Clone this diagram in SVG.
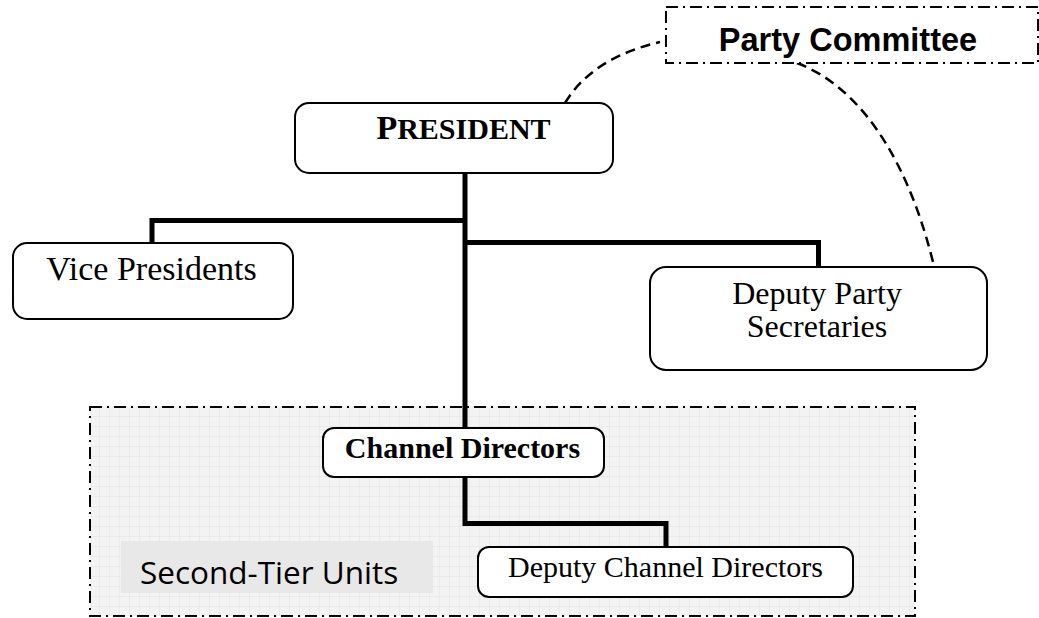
<svg xmlns="http://www.w3.org/2000/svg" width="1039" height="618" viewBox="0 0 1039 618">
  <defs>
    <pattern id="grid" width="10" height="10" patternUnits="userSpaceOnUse" x="90" y="407">
      <rect width="10" height="10" fill="#f3f3f3"/>
      <path d="M10,0 V10 M0,10 H10" fill="none" stroke="#e4e4e4" stroke-width="1"/>
    </pattern>
  </defs>
  <style>
    .node { fill: #ffffff; stroke: #000000; stroke-width: 2; }
    .conn { fill: none; stroke: #000000; stroke-width: 5; stroke-linejoin: miter; }
    .dashc { fill: none; stroke: #000000; stroke-width: 2.5; stroke-dasharray: 10 6; }
    .dashdot { stroke: #000000; stroke-width: 2; stroke-dasharray: 12 5 2 5; }
    .serif { font-family: "Liberation Serif", "Times New Roman", serif; fill: #000000; }
    .sans { font-family: "Liberation Sans", Arial, sans-serif; fill: #000000; }
  </style>

  <g id="second-tier-region">
    <rect x="90" y="407" width="825" height="209" fill="url(#grid)" class="dashdot"/>
    <rect x="121" y="541" width="312" height="52" fill="#e8e8e8"/>
    <text x="140" y="584" font-family="'Open Sans', 'Noto Sans', sans-serif" font-size="31.5" fill="#000">Second-Tier Units</text>
  </g>

  <g id="connectors">
    <path class="conn" d="M465,173 V428"/>
    <path class="conn" d="M465,220.5 H152 V243"/>
    <path class="conn" d="M465,242.5 H818.5 V267"/>
    <path class="conn" d="M465,477 V523.5 H666 V547"/>
    <path class="dashc" d="M565,103 Q592,58 660,42"/>
    <path class="dashc" d="M797,63 C855,85 905,150 933,262"/>
  </g>

  <g id="party-committee">
    <rect x="666" y="7" width="372" height="56" fill="#ffffff" class="dashdot"/>
    <text x="848" y="51" text-anchor="middle" class="sans" font-weight="bold" font-size="32.5">Party Committee</text>
  </g>

  <g id="president">
    <rect class="node" x="295" y="103" width="318" height="70" rx="14"/>
    <text x="463.5" y="139" text-anchor="middle" class="serif" font-weight="bold" font-size="30"><tspan font-size="34">P</tspan>RESIDENT</text>
  </g>

  <g id="vice-presidents">
    <rect class="node" x="13" y="243" width="280" height="76" rx="14"/>
    <text x="151.5" y="280" text-anchor="middle" class="serif" font-size="34">Vice Presidents</text>
  </g>

  <g id="deputy-party-secretaries">
    <rect class="node" x="650" y="267" width="337" height="103" rx="16"/>
    <text x="817" y="304" text-anchor="middle" class="serif" font-size="32">Deputy Party</text>
    <text x="817" y="337" text-anchor="middle" class="serif" font-size="32">Secretaries</text>
  </g>

  <g id="channel-directors">
    <rect class="node" x="323" y="428" width="281" height="49" rx="11"/>
    <text x="462.5" y="458" text-anchor="middle" class="serif" font-weight="bold" font-size="30">Channel Directors</text>
  </g>

  <g id="deputy-channel-directors">
    <rect class="node" x="478" y="547" width="375" height="50" rx="11"/>
    <text x="665.5" y="577" text-anchor="middle" class="serif" font-size="30">Deputy Channel Directors</text>
  </g>
</svg>
